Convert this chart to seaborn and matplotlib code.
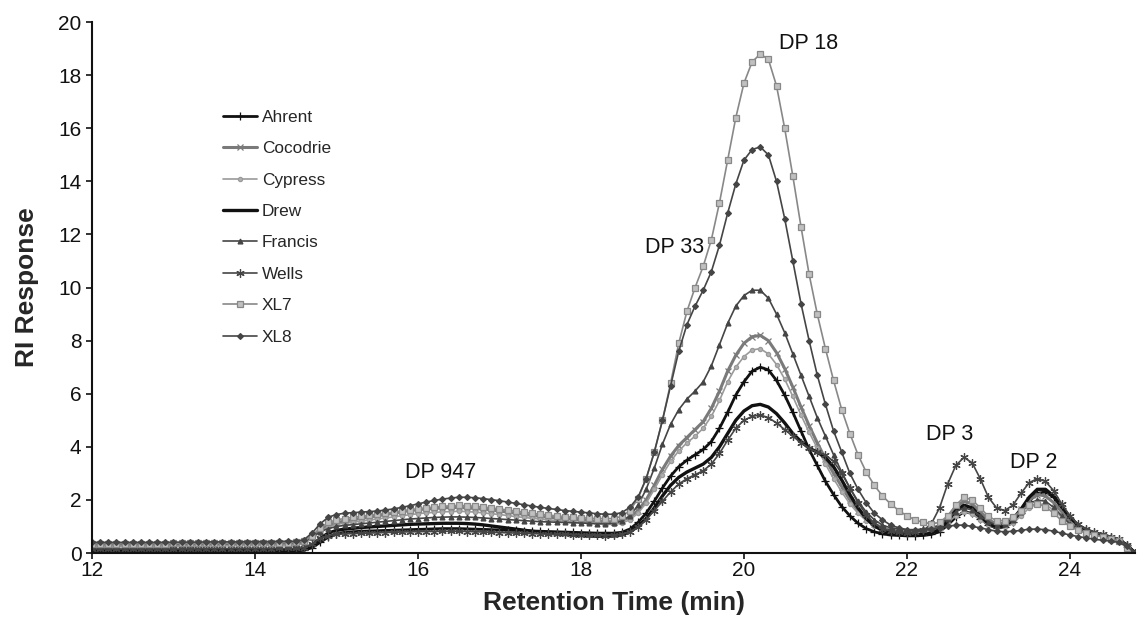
import numpy as np
import pandas as pd
import matplotlib
matplotlib.use("Agg")
import matplotlib.pyplot as plt
import seaborn as sns

# retention time grid, 0.1 min steps from 12.0 to 24.8
retention_time = np.round(12.0 + 0.1 * np.arange(129), 1)

# RI response (one row = one minute)
ahrent = [
    0.05, 0.05, 0.05, 0.05, 0.05, 0.05, 0.05, 0.05, 0.05, 0.05,
    0.05, 0.05, 0.06, 0.06, 0.06, 0.06, 0.06, 0.07, 0.07, 0.07,
    0.07, 0.07, 0.08, 0.08, 0.08, 0.08, 0.10, 0.20, 0.40, 0.60,
    0.72, 0.78, 0.80, 0.82, 0.83, 0.84, 0.85, 0.86, 0.87, 0.88,
    0.89, 0.90, 0.91, 0.92, 0.92, 0.92, 0.91, 0.90, 0.89, 0.88,
    0.87, 0.86, 0.85, 0.84, 0.83, 0.82, 0.81, 0.80, 0.79, 0.78,
    0.77, 0.76, 0.75, 0.75, 0.75, 0.78, 0.90, 1.15, 1.50, 1.95,
    2.45, 2.90, 3.25, 3.50, 3.70, 3.90, 4.20, 4.70, 5.30, 5.95,
    6.45, 6.85, 7.00, 6.90, 6.50, 5.95, 5.30, 4.60, 3.90, 3.30,
    2.70, 2.20, 1.75, 1.40, 1.12, 0.92, 0.80, 0.72, 0.68, 0.66,
    0.65, 0.65, 0.66, 0.70, 0.80, 1.05, 1.35, 1.55, 1.50, 1.30,
    1.05, 0.95, 0.98, 1.15, 1.50, 1.95, 2.25, 2.30, 2.10, 1.70,
    1.30, 1.00, 0.85, 0.75, 0.68, 0.60, 0.50, 0.30, 0.00,
]
cocodrie = [
    0.30, 0.30, 0.30, 0.30, 0.30, 0.30, 0.30, 0.30, 0.30, 0.30,
    0.30, 0.30, 0.31, 0.31, 0.31, 0.32, 0.32, 0.32, 0.33, 0.33,
    0.33, 0.33, 0.34, 0.34, 0.34, 0.35, 0.40, 0.60, 0.85, 1.05,
    1.15, 1.20, 1.25, 1.30, 1.35, 1.40, 1.45, 1.50, 1.55, 1.60,
    1.63, 1.66, 1.68, 1.70, 1.71, 1.72, 1.70, 1.68, 1.65, 1.62,
    1.58, 1.54, 1.50, 1.46, 1.42, 1.38, 1.35, 1.32, 1.30, 1.28,
    1.25, 1.22, 1.20, 1.18, 1.18, 1.22, 1.35, 1.60, 2.00, 2.55,
    3.15, 3.65, 4.05, 4.35, 4.65, 4.95, 5.45, 6.10, 6.85, 7.45,
    7.90, 8.15, 8.20, 8.00, 7.55, 6.95, 6.25, 5.50, 4.80, 4.15,
    3.55, 3.00, 2.50, 2.00, 1.60, 1.30, 1.10, 0.95, 0.85, 0.80,
    0.78, 0.78, 0.80, 0.85, 1.00, 1.35, 1.75, 1.95, 1.85, 1.55,
    1.25, 1.10, 1.12, 1.30, 1.65, 2.00, 2.20, 2.15, 1.90, 1.55,
    1.20, 0.95, 0.82, 0.72, 0.65, 0.58, 0.48, 0.28, -0.05,
]
cypress = [
    0.25, 0.25, 0.25, 0.25, 0.25, 0.25, 0.25, 0.25, 0.25, 0.25,
    0.25, 0.25, 0.26, 0.26, 0.26, 0.27, 0.27, 0.27, 0.28, 0.28,
    0.28, 0.28, 0.29, 0.29, 0.29, 0.30, 0.35, 0.55, 0.80, 0.98,
    1.08, 1.12, 1.16, 1.20, 1.24, 1.28, 1.32, 1.36, 1.40, 1.44,
    1.48, 1.51, 1.53, 1.55, 1.56, 1.57, 1.56, 1.54, 1.51, 1.48,
    1.45, 1.41, 1.37, 1.34, 1.31, 1.28, 1.25, 1.22, 1.20, 1.18,
    1.15, 1.12, 1.10, 1.08, 1.08, 1.12, 1.25, 1.50, 1.88, 2.40,
    2.95, 3.45, 3.85, 4.15, 4.40, 4.70, 5.15, 5.75, 6.45, 7.00,
    7.40, 7.65, 7.70, 7.50, 7.10, 6.55, 5.90, 5.20, 4.55, 3.95,
    3.35, 2.80, 2.30, 1.85, 1.50, 1.22, 1.02, 0.90, 0.82, 0.78,
    0.76, 0.76, 0.78, 0.82, 0.92, 1.15, 1.40, 1.55, 1.48, 1.25,
    1.05, 0.95, 0.98, 1.12, 1.40, 1.70, 1.85, 1.82, 1.62, 1.35,
    1.08, 0.88, 0.78, 0.70, 0.63, 0.56, 0.46, 0.26, -0.05,
]
drew = [
    0.10, 0.10, 0.10, 0.10, 0.10, 0.10, 0.10, 0.10, 0.10, 0.10,
    0.10, 0.10, 0.10, 0.10, 0.11, 0.11, 0.11, 0.11, 0.11, 0.11,
    0.12, 0.12, 0.12, 0.12, 0.12, 0.13, 0.15, 0.30, 0.55, 0.75,
    0.85, 0.90, 0.93, 0.96, 0.98, 1.00, 1.02, 1.04, 1.06, 1.08,
    1.09, 1.10, 1.11, 1.12, 1.12, 1.12, 1.11, 1.09, 1.06, 1.02,
    0.98, 0.94, 0.90, 0.86, 0.82, 0.78, 0.75, 0.72, 0.70, 0.68,
    0.66, 0.64, 0.63, 0.63, 0.64, 0.68, 0.80, 1.00, 1.30, 1.70,
    2.15, 2.55, 2.85, 3.05, 3.20, 3.35, 3.60, 4.00, 4.50, 5.00,
    5.35, 5.55, 5.60, 5.50, 5.25, 4.90, 4.50, 4.20, 3.95, 3.80,
    3.60, 3.25, 2.75, 2.20, 1.70, 1.30, 1.02, 0.85, 0.75, 0.70,
    0.68, 0.68, 0.70, 0.75, 0.88, 1.20, 1.60, 1.80, 1.70, 1.40,
    1.10, 0.98, 1.02, 1.25, 1.65, 2.10, 2.40, 2.40, 2.15, 1.75,
    1.35, 1.05, 0.88, 0.76, 0.68, 0.60, 0.50, 0.30, 0.00,
]
francis = [
    0.35, 0.35, 0.35, 0.35, 0.35, 0.35, 0.35, 0.35, 0.35, 0.35,
    0.35, 0.35, 0.35, 0.36, 0.36, 0.36, 0.36, 0.36, 0.37, 0.37,
    0.37, 0.37, 0.37, 0.38, 0.38, 0.38, 0.42, 0.60, 0.80, 0.92,
    1.00, 1.04, 1.07, 1.10, 1.13, 1.16, 1.19, 1.22, 1.25, 1.28,
    1.30, 1.32, 1.34, 1.35, 1.36, 1.36, 1.35, 1.34, 1.32, 1.30,
    1.28, 1.26, 1.24, 1.22, 1.20, 1.18, 1.17, 1.16, 1.15, 1.14,
    1.13, 1.12, 1.11, 1.10, 1.12, 1.20, 1.40, 1.80, 2.40, 3.20,
    4.10, 4.85, 5.40, 5.80, 6.10, 6.45, 7.05, 7.85, 8.65, 9.30,
    9.70, 9.90, 9.90, 9.60, 9.00, 8.30, 7.50, 6.70, 5.90, 5.10,
    4.40, 3.70, 3.05, 2.45, 1.95, 1.55, 1.25, 1.05, 0.95, 0.90,
    0.88, 0.88, 0.90, 0.95, 1.05, 1.30, 1.55, 1.70, 1.62, 1.40,
    1.18, 1.05, 1.08, 1.25, 1.55, 1.85, 2.00, 1.95, 1.72, 1.40,
    1.10, 0.90, 0.78, 0.70, 0.63, 0.56, 0.46, 0.26, -0.05,
]
wells = [
    0.15, 0.15, 0.15, 0.15, 0.15, 0.15, 0.15, 0.15, 0.15, 0.15,
    0.15, 0.15, 0.15, 0.15, 0.16, 0.16, 0.16, 0.16, 0.16, 0.16,
    0.16, 0.16, 0.16, 0.17, 0.17, 0.17, 0.20, 0.35, 0.55, 0.65,
    0.70, 0.72, 0.73, 0.74, 0.75, 0.76, 0.77, 0.78, 0.79, 0.80,
    0.80, 0.81, 0.81, 0.82, 0.82, 0.82, 0.81, 0.80, 0.79, 0.78,
    0.77, 0.76, 0.75, 0.74, 0.73, 0.72, 0.71, 0.70, 0.70, 0.69,
    0.68, 0.67, 0.66, 0.65, 0.66, 0.70, 0.80, 0.98, 1.25, 1.60,
    1.95, 2.30, 2.60, 2.80, 2.95, 3.10, 3.35, 3.75, 4.25, 4.70,
    5.00, 5.15, 5.20, 5.10, 4.90, 4.65, 4.40, 4.15, 3.95, 3.80,
    3.70, 3.45, 3.00, 2.45, 1.90, 1.45, 1.12, 0.92, 0.82, 0.78,
    0.76, 0.78, 0.85, 1.10, 1.70, 2.60, 3.30, 3.60, 3.40, 2.80,
    2.10, 1.70, 1.60, 1.80, 2.25, 2.65, 2.80, 2.70, 2.35, 1.85,
    1.40, 1.08, 0.90, 0.78, 0.70, 0.62, 0.52, 0.32, 0.00,
]
xl7 = [
    0.35, 0.35, 0.35, 0.35, 0.35, 0.35, 0.35, 0.35, 0.35, 0.35,
    0.36, 0.36, 0.36, 0.36, 0.37, 0.37, 0.37, 0.37, 0.38, 0.38,
    0.38, 0.38, 0.39, 0.39, 0.39, 0.40, 0.45, 0.65, 0.95, 1.15,
    1.25, 1.30, 1.34, 1.38, 1.42, 1.46, 1.50, 1.54, 1.58, 1.62,
    1.66, 1.70, 1.73, 1.76, 1.78, 1.79, 1.78, 1.76, 1.73, 1.70,
    1.66, 1.62, 1.58, 1.54, 1.50, 1.46, 1.43, 1.40, 1.37, 1.35,
    1.33, 1.31, 1.30, 1.29, 1.30, 1.38, 1.60, 2.05, 2.80, 3.80,
    5.00, 6.40, 7.90, 9.10, 10.00, 10.80, 11.80, 13.20, 14.80, 16.40,
    17.70, 18.50, 18.80, 18.60, 17.60, 16.00, 14.20, 12.30, 10.50, 9.00,
    7.70, 6.50, 5.40, 4.50, 3.70, 3.05, 2.55, 2.15, 1.85, 1.60,
    1.40, 1.25, 1.15, 1.10, 1.15, 1.40, 1.80, 2.10, 2.00, 1.70,
    1.38, 1.22, 1.22, 1.35, 1.60, 1.80, 1.85, 1.75, 1.50, 1.22,
    1.00, 0.85, 0.75, 0.68, 0.60, 0.54, 0.44, 0.20, -0.30,
]
xl8 = [
    0.40, 0.40, 0.40, 0.40, 0.40, 0.40, 0.40, 0.40, 0.40, 0.40,
    0.41, 0.41, 0.41, 0.41, 0.42, 0.42, 0.42, 0.42, 0.42, 0.43,
    0.43, 0.43, 0.43, 0.44, 0.44, 0.44, 0.50, 0.75, 1.10, 1.35,
    1.45, 1.50, 1.52, 1.54, 1.56, 1.58, 1.62, 1.66, 1.72, 1.78,
    1.85, 1.92, 1.98, 2.03, 2.07, 2.10, 2.10, 2.08, 2.05, 2.01,
    1.97, 1.92, 1.87, 1.82, 1.77, 1.72, 1.68, 1.64, 1.60, 1.57,
    1.54, 1.51, 1.48, 1.46, 1.46, 1.52, 1.72, 2.10, 2.80, 3.80,
    5.00, 6.30, 7.60, 8.60, 9.30, 9.90, 10.60, 11.60, 12.80, 13.90,
    14.80, 15.20, 15.30, 15.00, 14.00, 12.60, 11.00, 9.40, 8.00, 6.70,
    5.60, 4.60, 3.80, 3.00, 2.40, 1.90, 1.50, 1.25, 1.05, 0.95,
    0.88, 0.85, 0.85, 0.90, 0.95, 1.00, 1.05, 1.05, 1.00, 0.95,
    0.88, 0.82, 0.80, 0.82, 0.85, 0.90, 0.90, 0.88, 0.82, 0.75,
    0.68, 0.62, 0.57, 0.52, 0.48, 0.45, 0.40, 0.25, 0.00,
]

varieties = ["Ahrent", "Cocodrie", "Cypress", "Drew", "Francis", "Wells", "XL7", "XL8"]
responses = [ahrent, cocodrie, cypress, drew, francis, wells, xl7, xl8]

# peak labels (text, time, response)
peak_labels = [
    ("DP 947", 16.28, 3.05),
    ("DP 33", 19.15, 11.5),
    ("DP 18", 20.79, 19.2),
    ("DP 3", 22.52, 4.45),
    ("DP 2", 23.55, 3.4),
]

# line look per variety: colour, width, marker, marker size, marker face
line_styles = {
    "Ahrent":   ("#111111", 2.0, "+", 6, "#111111"),
    "Cocodrie": ("#7a7a7a", 2.2, "x", 5, "#7a7a7a"),
    "Cypress":  ("#9a9a9a", 1.2, "o", 3, "#b0b0b0"),
    "Drew":     ("#111111", 2.4, None, 0, "#111111"),
    "Francis":  ("#454545", 1.2, "^", 3.5, "#454545"),
    "Wells":    ("#454545", 1.2, (6, 2, 0), 6, "#454545"),
    "XL7":      ("#888888", 1.2, "s", 4, "#c0c0c0"),
    "XL8":      ("#454545", 1.2, "D", 3, "#454545"),
}

df = pd.DataFrame({
    "time": np.tile(retention_time, len(varieties)),
    "response": np.concatenate([np.array(r, dtype=float) for r in responses]),
    "variety": np.repeat(varieties, len(retention_time)),
})

sns.set_style("ticks")
plt.rcParams["font.family"] = ["Liberation Sans", "DejaVu Sans"]

fig = plt.figure(figsize=(11.4, 6.26), dpi=100)
ax = fig.add_axes([0.0807, 0.1166, 0.915, 0.848])

for name in varieties:
    color, lw, marker, ms, face = line_styles[name]
    sns.lineplot(
        data=df[df["variety"] == name], x="time", y="response",
        ax=ax, label=name, color=color, linewidth=lw,
        marker=marker, markersize=ms, markerfacecolor=face,
        markeredgecolor=color, markeredgewidth=0.9,
    )

for text, t, v in peak_labels:
    ax.text(t, v, text, ha="center", va="center", fontsize=15.5, color="#111111")

ax.set_xlim(12, 24.8)
ax.set_ylim(0, 20)
ax.set_xticks([12, 14, 16, 18, 20, 22, 24])
ax.set_yticks(range(0, 21, 2))
ax.tick_params(labelsize=15, length=4, width=1.2, colors="#111111")
ax.tick_params(axis="x", pad=2)
ax.set_xlabel("Retention Time (min)", fontsize=19, fontweight="bold", labelpad=8)
ax.set_ylabel("RI Response", fontsize=19, fontweight="bold", labelpad=14)
for side in ["left", "bottom"]:
    ax.spines[side].set_linewidth(1.5)
    ax.spines[side].set_color("#111111")
sns.despine(ax=ax)

ax.legend(
    loc="upper left", bbox_to_anchor=(0.119, 0.848), frameon=False,
    borderaxespad=0, fontsize=12.4, labelspacing=0.95, handlelength=2.0,
    handletextpad=0.25,
)

fig.savefig("out.png", dpi=100)
